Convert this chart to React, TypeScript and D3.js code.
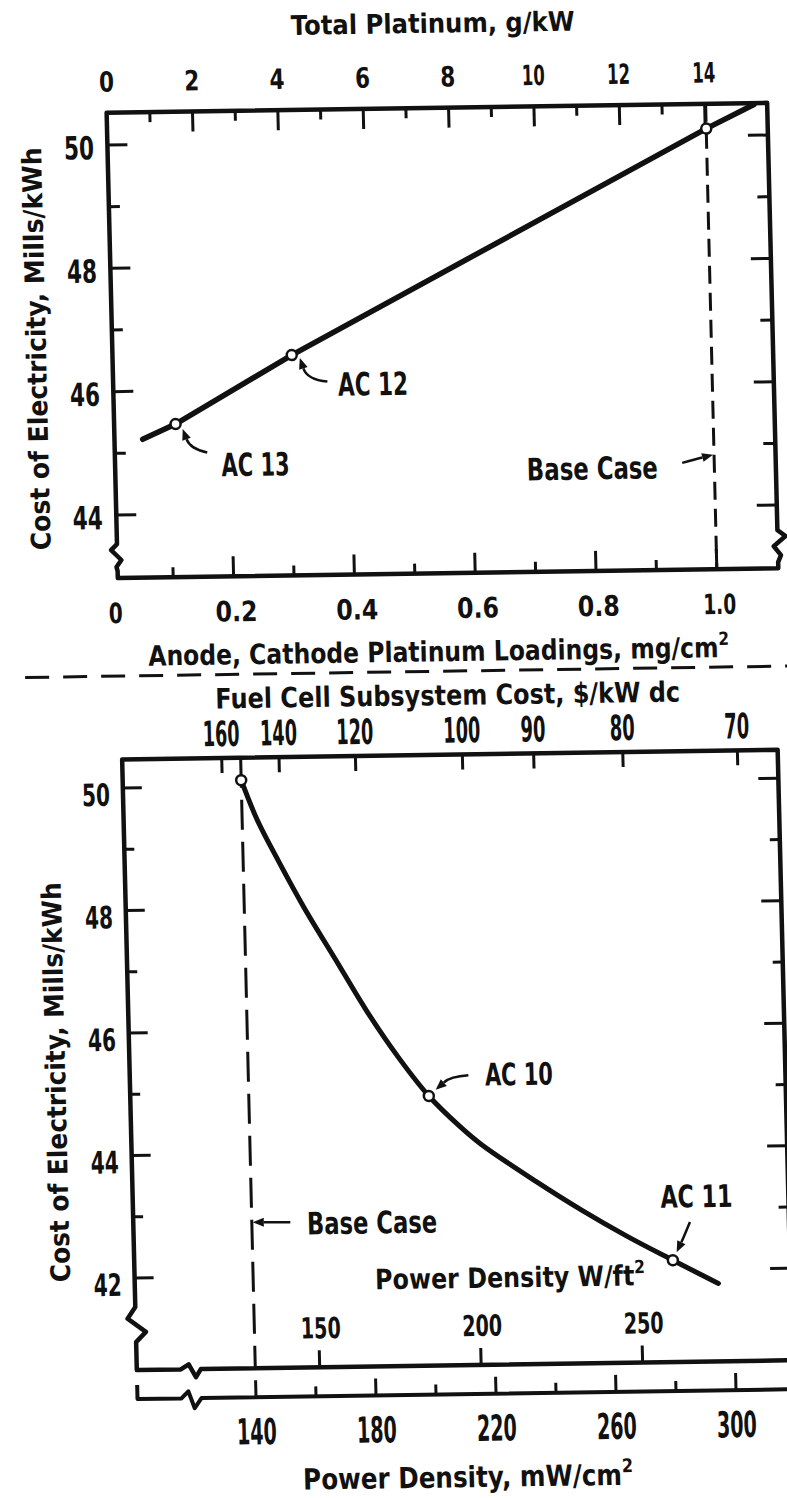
import React, { useEffect, useRef } from "react";
import * as d3 from "d3";

// upper panel - anode/cathode platinum loading
const loading = [0.055, 0.11, 0.305, 1.0, 1.08]; // mg/cm2
const loadingCoe = [45.22, 45.46, 46.55, 50.12, 50.5]; // mills/kWh
const loadingMarks = [1, 2, 3]; // AC 13, AC 12, base case
const loadingTicks = [0.1, 0.2, 0.3, 0.4, 0.5, 0.6, 0.7, 0.8, 0.9, 1.0];
const loadingLabels = [0, 0.2, 0.4, 0.6, 0.8, 1.0];
const platinumTicks = [1, 2, 3, 4, 5, 6, 7, 8, 9, 10, 11, 12, 13, 14];
const platinumLabels = [0, 2, 4, 6, 8, 10, 12, 14];
const topCoeTicks = [44, 45, 46, 47, 48, 49, 50];
const topCoeLabels = [44, 46, 48, 50];

// lower panel - power density
const density = [140, 145, 152, 160, 170, 180, 190, 200, 210, 217, 235, 250, 265, 280, 295]; // mW/cm2
const densityCoe = [50.1, 49.45, 48.75, 48.0, 47.15, 46.3, 45.55, 44.9, 44.4, 44.1, 43.48, 43.0, 42.56, 42.16, 41.77];
const densityMarks = [0, 7, 13]; // base case, AC 10, AC 11
const densityTicks = [140, 160, 180, 200, 220, 240, 260, 280, 300];
const densityLabels = [140, 180, 220, 260, 300];
const wattFtLabels = [150, 200, 250];
const fuelCellCost = [160, 140, 120, 100, 90, 80, 70]; // $/kW dc
const lowCoeTicks = [42, 43, 44, 45, 46, 47, 48, 49, 50];
const lowCoeLabels = [42, 44, 46, 48, 50];

const W_FT2 = 1.0764; // mW/cm2 per W/ft2
const COST_X_DENSITY = 21390; // subsystem cost * power density stays ~constant

const W = 787;
const H = 1498;
const INK = "#111";
const FONT = "'DejaVu Sans', sans-serif";

// text squeezed horizontally to the width it has in the scan
function txt(g: any, x: number, y: number, s: string, size: number, o: any = {}) {
  const t = g
    .append("text")
    .attr("font-family", FONT)
    .attr("font-size", size)
    .attr("font-weight", o.weight || "bold")
    .attr("text-anchor", o.anchor || "middle")
    .attr("fill", INK)
    .text(s);
  if (o.sup) t.append("tspan").attr("font-size", size * 0.65).attr("dy", -size * 0.43).text(o.sup);
  let sx = 1;
  if (o.len) {
    const n = t.node().getComputedTextLength();
    if (n > 0) sx = o.len / n;
  }
  t.attr("transform", `translate(${x},${y})${o.rot ? ` rotate(${o.rot})` : ""} scale(${sx},1)`);
  return t;
}

function seg(g: any, x1: number, y1: number, x2: number, y2: number, w = 3) {
  g.append("line")
    .attr("x1", x1).attr("y1", y1).attr("x2", x2).attr("y2", y2)
    .attr("stroke", INK).attr("stroke-width", w);
}

function arrow(g: any, x0: number, y0: number, cx: number, cy: number, x1: number, y1: number) {
  const a = Math.atan2(y1 - cy, x1 - cx);
  const L = 11, hw = 4.5;
  const bx = x1 - L * Math.cos(a), by = y1 - L * Math.sin(a);
  g.append("path")
    .attr("d", `M${x0},${y0}Q${cx},${cy} ${bx},${by}`)
    .attr("fill", "none").attr("stroke", INK).attr("stroke-width", 2.5);
  g.append("path")
    .attr("d", `M${x1},${y1}L${bx + hw * Math.sin(a)},${by - hw * Math.cos(a)}L${bx - hw * Math.sin(a)},${by + hw * Math.cos(a)}Z`)
    .attr("fill", INK);
}

export default function App() {
  const ref = useRef<SVGSVGElement>(null);

  useEffect(() => {
    const svg = d3.select(ref.current);
    svg.selectAll("*").remove();
    svg.append("rect").attr("width", W).attr("height", H).attr("fill", "#fff");

    // the scanned page is slightly skewed, so everything goes in a sheared group
    const g = svg.append("g").attr("transform", "matrix(1,-0.015,0.024,1,-17.98,5.9)");

    // ================= upper panel =================
    const T = { left: 122, right: 782.5, top: 108.7, bottom: 574 };
    const xLoad = d3.scaleLinear().domain([0, 1]).range([117, 721]);
    const xPlat = d3.scaleLinear().domain([0, 14]).range([122.5, 720]);
    const yTop = d3.scaleLinear().domain([44, 50]).range([510.9, 140.9]);

    // frame with axis breaks
    g.append("path")
      .attr(
        "d",
        `M${T.left},${T.top}L${T.left},540L${T.left - 6},546L${T.left + 4},556L${T.left - 1},563L${T.left},567L${T.left},${T.bottom}` +
          `L${T.right},${T.bottom}L${T.right},568L${T.right + 3},561L${T.right - 4},552L${T.right + 8},542L${T.right},536L${T.right},${T.top}Z`
      )
      .attr("fill", "none").attr("stroke", INK).attr("stroke-width", 4.5).attr("stroke-linejoin", "round");

    // top axis: total platinum g/kW
    platinumTicks.forEach((v) => seg(g, xPlat(v), T.top, xPlat(v), T.top + (v % 2 === 0 ? 20 : 10)));
    platinumLabels.forEach((v) => txt(g, xPlat(v), 87.5, String(v), 28, { len: v < 10 ? 15 : 23 }));
    txt(g, 450, 33.6, "Total Platinum, g/kW", 27, { len: 284 });

    // bottom axis: loading
    loadingTicks.forEach((v, i) => seg(g, xLoad(v), T.bottom, xLoad(v), T.bottom - (i % 2 === 1 ? 20 : 10)));
    loadingLabels.forEach((v) =>
      txt(g, xLoad(v) + 2, 619, v === 0 ? "0" : v.toFixed(1), 28, { len: v === 0 ? 14 : v === 1 ? 33 : 42 })
    );
    txt(g, 441, 662, "Anode, Cathode Platinum Loadings, mg/cm", 28, { len: 581, sup: "2" });

    // left / right coe ticks
    topCoeTicks.forEach((v) => {
      const major = v % 2 === 0;
      seg(g, T.left, yTop(v), T.left + (major ? 20 : 11), yTop(v));
      seg(g, T.right, yTop(v), T.right - (major ? 20 : 12), yTop(v));
    });
    topCoeLabels.forEach((v) => txt(g, 93.5, yTop(v) + 14, String(v), 32, { len: 30 }));
    txt(g, 55.6, 343.6, "Cost of Electricity,  Mills/kWh", 27, { len: 403, rot: -90 });

    // base case dashed line
    g.append("line")
      .attr("x1", xLoad(1)).attr("x2", xLoad(1)).attr("y1", T.top).attr("y2", T.bottom)
      .attr("stroke", INK).attr("stroke-width", 3).attr("stroke-dasharray", "18,9");

    const topLine = d3
      .line<number>()
      .x((d, i) => xLoad(loading[i]))
      .y((d) => yTop(d));
    g.append("path")
      .attr("d", topLine(loadingCoe))
      .attr("fill", "none").attr("stroke", INK).attr("stroke-width", 5.5).attr("stroke-linecap", "round");

    loadingMarks.forEach((i) =>
      g.append("circle")
        .attr("cx", xLoad(loading[i])).attr("cy", yTop(loadingCoe[i])).attr("r", 5)
        .attr("fill", "#fff").attr("stroke", INK).attr("stroke-width", 2.5)
    );

    // labels + arrows
    const m13 = [xLoad(loading[1]), yTop(loadingCoe[1])];
    txt(g, m13[0] + 79, m13[1] + 53, "AC 13", 32, { len: 68 });
    arrow(g, m13[0] + 31, m13[1] + 29, m13[0] + 14, m13[1] + 25, m13[0] + 7, m13[1] + 5);
    const m12 = [xLoad(loading[2]), yTop(loadingCoe[2])];
    txt(g, m12[0] + 80.5, m12[1] + 41.5, "AC 12", 32, { len: 70 });
    arrow(g, m12[0] + 35, m12[1] + 27, m12[0] + 15, m12[1] + 25, m12[0] + 8, m12[1] + 3);
    txt(g, 599, 482.5, "Base Case", 31, { len: 131 });
    arrow(g, 689, 467.3, 704, 463.5, xLoad(1) - 1, 459.7);

    // divider
    g.append("line")
      .attr("x1", 27).attr("x2", 820).attr("y1", 672).attr("y2", 672)
      .attr("stroke", INK).attr("stroke-width", 3).attr("stroke-dasharray", "24,14");

    // ================= lower panel =================
    const B = { left: 122, right: 777.5, top: 755.5, wAxis: 1366, mwAxis: 1395 };
    const xDen = d3.scaleLinear().domain([140, 300]).range([240.5, 720.5]);
    const yLow = d3.scaleLinear().domain([42, 50]).range([1274, 784]);

    g.append("path")
      .attr(
        "d",
        `M${B.right},${B.wAxis}L${B.right},${B.top}L${B.left},${B.top}L${B.left},1303L${B.left - 8},1314.5L${B.left + 10},1328L${B.left},1338L${B.left},${B.wAxis}` +
          `L166,${B.wAxis}L174,${B.wAxis - 5}L181,${B.wAxis + 8}L186,${B.wAxis}L820,${B.wAxis}`
      )
      .attr("fill", "none").attr("stroke", INK).attr("stroke-width", 4.5).attr("stroke-linejoin", "round");
    g.append("path")
      .attr("d", `M${B.left},${B.mwAxis - 14}L${B.left},${B.mwAxis}L166,${B.mwAxis}L173,${B.mwAxis - 7}L179,${B.mwAxis + 10}L186,${B.mwAxis}L820,${B.mwAxis}`)
      .attr("fill", "none").attr("stroke", INK).attr("stroke-width", 4).attr("stroke-linejoin", "round");

    // top axis: fuel cell subsystem cost
    fuelCellCost.forEach((c) => {
      const x = xDen(COST_X_DENSITY / c);
      seg(g, x, B.top, x, B.top + 15);
      txt(g, x, 743.5, String(c), 35, { len: c >= 100 ? 37 : 25 });
    });
    txt(g, 449, 705.8, "Fuel Cell Subsystem Cost, $/kW dc", 28, { len: 465 });

    // coe ticks
    lowCoeTicks.forEach((v) => {
      const major = v % 2 === 0;
      seg(g, B.left, yLow(v), B.left + (major ? 19 : 10), yLow(v));
      seg(g, B.right, yLow(v), B.right - (major ? 20 : 10), yLow(v));
    });
    lowCoeLabels.forEach((v) => txt(g, 95, yLow(v) + 17.5, String(v), 31, { len: 28 }));
    txt(g, 57.5, 1077, "Cost of Electricity,  Mills/kWh", 27, { len: 400, rot: -90 });

    // W/ft2 axis
    wattFtLabels.forEach((v) => {
      const x = xDen(v * W_FT2);
      seg(g, x, B.wAxis, x, B.wAxis - 17);
      txt(g, x + 2, 1337, String(v), 29, { len: 40 });
    });
    txt(g, 497.4, 1288.8, "Power Density W/ft", 28, { len: 270, sup: "2" });

    // mW/cm2 axis
    densityTicks.forEach((v, i) => seg(g, xDen(v), B.mwAxis, xDen(v), B.mwAxis - (i % 2 === 0 ? 17 : 10)));
    densityLabels.forEach((v) => txt(g, xDen(v), 1442, String(v), 36, { len: 40 }));
    txt(g, 450.6, 1488, "Power Density,  mW/cm", 29, { len: 330, sup: "2" });

    // base case dashed line
    g.append("line")
      .attr("x1", xDen(140)).attr("x2", xDen(140)).attr("y1", B.top).attr("y2", B.wAxis)
      .attr("stroke", INK).attr("stroke-width", 3).attr("stroke-dasharray", "30,12");

    const lowLine = d3
      .line<number>()
      .x((d, i) => xDen(density[i]))
      .y((d) => yLow(d))
      .curve(d3.curveCatmullRom.alpha(0.5));
    g.append("path")
      .attr("d", lowLine(densityCoe))
      .attr("fill", "none").attr("stroke", INK).attr("stroke-width", 5).attr("stroke-linecap", "round");

    densityMarks.forEach((i) =>
      g.append("circle")
        .attr("cx", xDen(density[i])).attr("cy", yLow(densityCoe[i])).attr("r", 5)
        .attr("fill", "#fff").attr("stroke", INK).attr("stroke-width", 2.5)
    );

    const m10 = [xDen(density[7]), yLow(densityCoe[7])];
    txt(g, m10[0] + 90.5, m10[1] - 9.5, "AC 10", 31, { len: 68 });
    arrow(g, m10[0] + 40, m10[1] - 20, m10[0] + 22, m10[1] - 19, m10[0] + 7, m10[1] - 6);
    const m11 = [xDen(density[13]), yLow(densityCoe[13])];
    txt(g, m11[0] + 25, m11[1] - 52.5, "AC 11", 31, { len: 72 });
    arrow(g, m11[0] + 18, m11[1] - 38, m11[0] + 11, m11[1] - 22, m11[0] + 4, m11[1] - 8);
    txt(g, 360.7, 1233, "Base Case", 31, { len: 130 });
    arrow(g, 279, 1220.5, 260, 1220.2, xDen(140) + 1, 1220);
  }, []);

  return <svg ref={ref} width={W} height={H} style={{ position: "absolute", left: 0, top: 0, display: "block" }} />;
}
